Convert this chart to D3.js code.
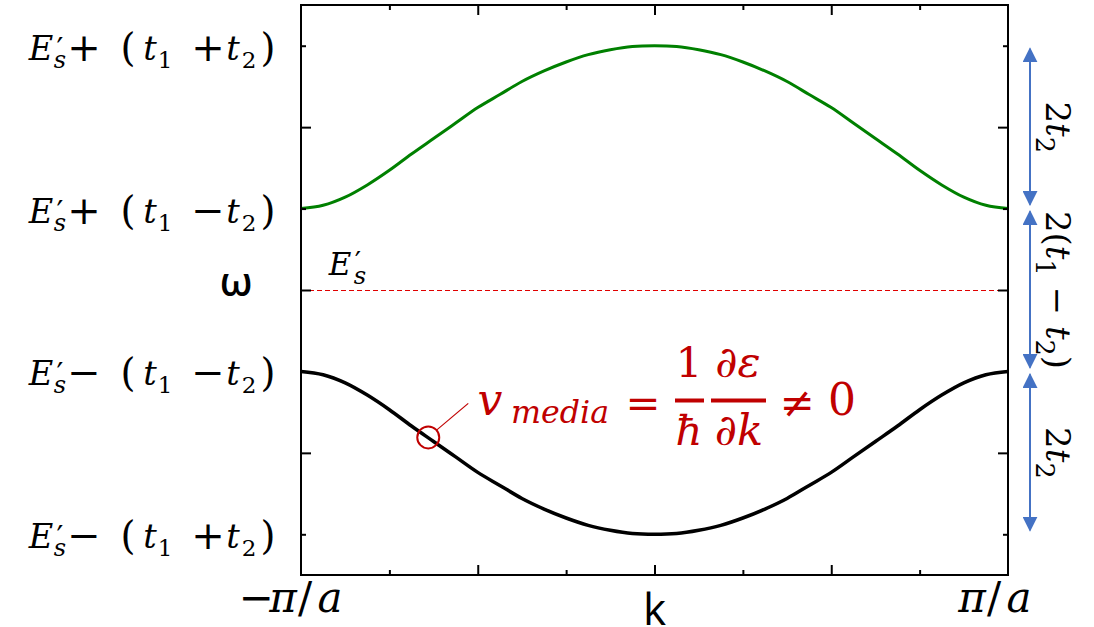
<!DOCTYPE html>
<html>
<head>
<meta charset="utf-8">
<script src="https://cdn.jsdelivr.net/npm/d3@7"></script>
<style>
  html, body { margin: 0; padding: 0; background: #fff; }
  svg { display: block; }
  .math { font-family: "DejaVu Serif", "Liberation Serif", serif; }
  .sans { font-family: "Open Sans", "Liberation Sans", sans-serif; }
</style>
</head>
<body>
<svg id="chart" width="1094" height="627"></svg>
<script>
// Wave vector samples (units of pi/a) and the two band energies (units of t, relative to E's)
const kValues = [-1, -0.9375, -0.875, -0.8125, -0.75, -0.6875, -0.625, -0.5625, -0.5,
  -0.4375, -0.375, -0.3125, -0.25, -0.1875, -0.125, -0.0625, 0,
  0.0625, 0.125, 0.1875, 0.25, 0.3125, 0.375, 0.4375, 0.5,
  0.5625, 0.625, 0.6875, 0.75, 0.8125, 0.875, 0.9375, 1];
const upperBand = [1.00, 1.04, 1.14, 1.29, 1.47, 1.67, 1.86, 2.05, 2.24,
  2.40, 2.56, 2.69, 2.80, 2.89, 2.95, 2.99, 3.00,
  2.99, 2.95, 2.89, 2.80, 2.69, 2.56, 2.40, 2.24,
  2.05, 1.86, 1.67, 1.47, 1.29, 1.14, 1.04, 1.00];
const lowerBand = [-1.00, -1.04, -1.14, -1.29, -1.47, -1.67, -1.86, -2.05, -2.24,
  -2.40, -2.56, -2.69, -2.80, -2.89, -2.95, -2.99, -3.00,
  -2.99, -2.95, -2.89, -2.80, -2.69, -2.56, -2.40, -2.24,
  -2.05, -1.86, -1.67, -1.47, -1.29, -1.14, -1.04, -1.00];
const onsiteLevel = 0;

// Tick positions
const xMajorTicks = [-0.5, 0, 0.5];
const xMinorTicks = [-0.75, -0.25, 0.25, 0.75];
const yMajorTicks = [-2, 0, 2];
const yMinorTicks = [-3, -1, 1, 3];

// Energy level labels on the left axis
const levelValues = [3, 1, -1, -3];
const levelSigns = [["+", "+"], ["+", "\u2212"], ["\u2212", "\u2212"], ["\u2212", "+"]];

// Band-width / gap brackets on the right
const bracketFrom = [3, 1, -1];
const bracketTo = [1, -1, -3];
const bracketLabels = [
  [["2", false], ["t", true], ["2", false, "sub"]],
  [["2(", false], ["t", true], ["1", false, "sub"], [" \u2212 ", false], ["t", true], ["2", false, "sub"], [")", false]],
  [["2", false], ["t", true], ["2", false, "sub"]]
];

// Highlighted point on the lower band
const markerK = -0.64;
const markerW = -1.81;

const svg = d3.select("#chart");
const plotLeft = 301, plotRight = 1008, plotTop = 5, plotBottom = 575;

const x = d3.scaleLinear().domain([-1, 1]).range([plotLeft, plotRight]);
const y = d3.scaleLinear().domain([-3.5, 3.5]).range([plotBottom, plotTop]);

const red = "#c00000";
const blue = "#4472c4";

// Onsite energy reference line
svg.append("line")
  .attr("x1", x(-1)).attr("x2", x(1))
  .attr("y1", y(onsiteLevel) + 0.5).attr("y2", y(onsiteLevel) + 0.5)
  .attr("stroke", "#e00000").attr("stroke-width", 1)
  .attr("stroke-dasharray", "5,3");

// Bands
const line = d3.line().curve(d3.curveCatmullRom.alpha(0.5));
svg.append("path")
  .attr("d", line(kValues.map((k, i) => [x(k), y(upperBand[i])])))
  .attr("fill", "none").attr("stroke", "#008000").attr("stroke-width", 3);
svg.append("path")
  .attr("d", line(kValues.map((k, i) => [x(k), y(lowerBand[i])])))
  .attr("fill", "none").attr("stroke", "#000").attr("stroke-width", 3.5);

// Axes with inward ticks on all four sides
function styleAxis(g) {
  g.select(".domain").remove();
  g.selectAll(".tick line").attr("stroke", "#000").attr("stroke-width", 2);
  g.selectAll(".tick text").remove();
}
const axes = [
  [d3.axisBottom(x), `translate(0,${plotBottom})`, xMajorTicks, -10],
  [d3.axisBottom(x), `translate(0,${plotBottom})`, xMinorTicks, -5],
  [d3.axisTop(x), `translate(0,${plotTop})`, xMajorTicks, -10],
  [d3.axisTop(x), `translate(0,${plotTop})`, xMinorTicks, -5],
  [d3.axisLeft(y), `translate(${plotLeft},0)`, yMajorTicks, -10],
  [d3.axisLeft(y), `translate(${plotLeft},0)`, yMinorTicks, -5],
  [d3.axisRight(y), `translate(${plotRight},0)`, yMajorTicks, -10],
  [d3.axisRight(y), `translate(${plotRight},0)`, yMinorTicks, -5]
];
axes.forEach(([ax, tr, vals, size]) => {
  svg.append("g").attr("transform", tr)
    .call(ax.tickValues(vals).tickSize(size).tickFormat(""))
    .call(styleAxis);
});

svg.append("rect")
  .attr("x", plotLeft).attr("y", plotTop)
  .attr("width", plotRight - plotLeft).attr("height", plotBottom - plotTop)
  .attr("fill", "none").attr("stroke", "#000").attr("stroke-width", 2);

// Flowing math text: segments of [text, italic, role]
function mathText(sel, segs, size) {
  const t = sel.append("text").attr("class", "math").attr("font-size", size);
  let shift = 0;
  segs.forEach(([s, it, role]) => {
    let target = 0, fs = size;
    if (role === "sub") { target = size * 0.28; fs = size * 0.75; }
    t.append("tspan").text(s)
      .attr("font-style", it ? "italic" : "normal")
      .attr("font-size", fs)
      .attr("dy", target - shift);
    shift = target;
  });
  return t;
}

// Math text with each glyph group centred at its own position: [text, italic, cx, dy, scale]
function placedMath(sel, segs, size, x0, y0) {
  const t = sel.append("text").attr("class", "math").attr("text-anchor", "middle");
  segs.forEach(([s, it, cx, dy, k]) => {
    t.append("tspan").text(s)
      .attr("x", x0 + cx).attr("y", y0 + dy)
      .attr("font-size", size * k)
      .attr("font-style", it ? "italic" : "normal");
  });
  return t;
}

levelValues.forEach((v, i) => {
  const [a, b] = levelSigns[i];
  placedMath(svg, [
    ["E", true, 41, 0, 1.05], ["\u2032", false, 60, -1, 0.95], ["s", true, 60, 8, 0.75],
    [a, false, 84, 1, 1.25], ["(", false, 128, 1, 1.2],
    ["t", true, 150, 0, 1.05], ["1", false, 165, 8, 0.72],
    [b, false, 208, 1, 1.25],
    ["t", true, 233, 0, 1.05], ["2", false, 249, 8, 0.72],
    [")", false, 268, 1, 1.2]
  ], 32, 0, y(v) + 14);
});

// E's label above the dashed line
placedMath(svg, [
  ["E", true, 340, 0, 1], ["\u2032", false, 358, -3, 0.9], ["s", true, 360, 9, 0.78]
], 31, 0, y(onsiteLevel) - 15);

// Axis titles
placedMath(svg, [
  ["\u2212", false, 256, 0, 1], ["\u03c0", true, 283, 0, 1], ["/", false, 305, 0, 1], ["a", true, 330, 0, 1]
], 42, 0, 612);
placedMath(svg, [
  ["\u03c0", true, 972, 0, 1], ["/", false, 994, 0, 1], ["a", true, 1019, 0, 1]
], 42, 0, 612);
svg.append("text").attr("class", "sans").text("k")
  .attr("x", x(0)).attr("y", 625).attr("text-anchor", "middle")
  .attr("font-size", 44);
svg.append("text").attr("class", "sans").text("\u03c9")
  .attr("x", 236).attr("y", 296).attr("text-anchor", "middle")
  .attr("font-size", 40).attr("font-weight", 600);

// Brackets on the right
svg.append("defs").append("marker").attr("id", "ahead")
  .attr("viewBox", "0 0 10 10").attr("refX", 9).attr("refY", 5)
  .attr("markerWidth", 7.5).attr("markerHeight", 7.5).attr("markerUnits", "strokeWidth")
  .attr("orient", "auto-start-reverse")
  .append("path").attr("d", "M0,0 L10,5 L0,10 Z").attr("fill", blue);

const bx = 1030;
bracketFrom.forEach((from, i) => {
  const to = bracketTo[i];
  svg.append("line")
    .attr("x1", bx).attr("x2", bx).attr("y1", y(from) + 3).attr("y2", y(to) - 4)
    .attr("stroke", blue).attr("stroke-width", 2)
    .attr("marker-start", "url(#ahead)").attr("marker-end", "url(#ahead)");
  const cy = (y(from) + y(to)) / 2;
  mathText(svg, bracketLabels[i], 34)
    .attr("text-anchor", "middle")
    .attr("transform", `translate(1046,${cy}) rotate(90)`);
});

// Group velocity annotation
const mx = x(markerK), my = y(markerW);
svg.append("circle").attr("cx", mx).attr("cy", my).attr("r", 11)
  .attr("fill", "none").attr("stroke", red).attr("stroke-width", 2);
svg.append("line")
  .attr("x1", mx + 8).attr("y1", my - 7).attr("x2", mx + 40).attr("y2", my - 34)
  .attr("stroke", red).attr("stroke-width", 1.2);

const f = svg.append("g").attr("fill", red);
placedMath(f, [
  ["v", true, 490, 0, 1],
  ["media", true, 560, 8, 0.72],
  ["=", false, 643, 2, 0.95],
  ["1", false, 689, -38, 0.95],
  ["\u2202\u03b5", true, 738, -38, 0.98],
  ["\u0127", true, 689, 30, 0.95],
  ["\u2202k", true, 739, 30, 0.98],
  ["\u2260", false, 797, 2, 0.95],
  ["0", false, 842, 0, 1]
], 44, 0, 415);
f.append("rect").attr("x", 675).attr("y", 398.5).attr("width", 29).attr("height", 4);
f.append("rect").attr("x", 711).attr("y", 398.5).attr("width", 55).attr("height", 4);
</script>
</body>
</html>
